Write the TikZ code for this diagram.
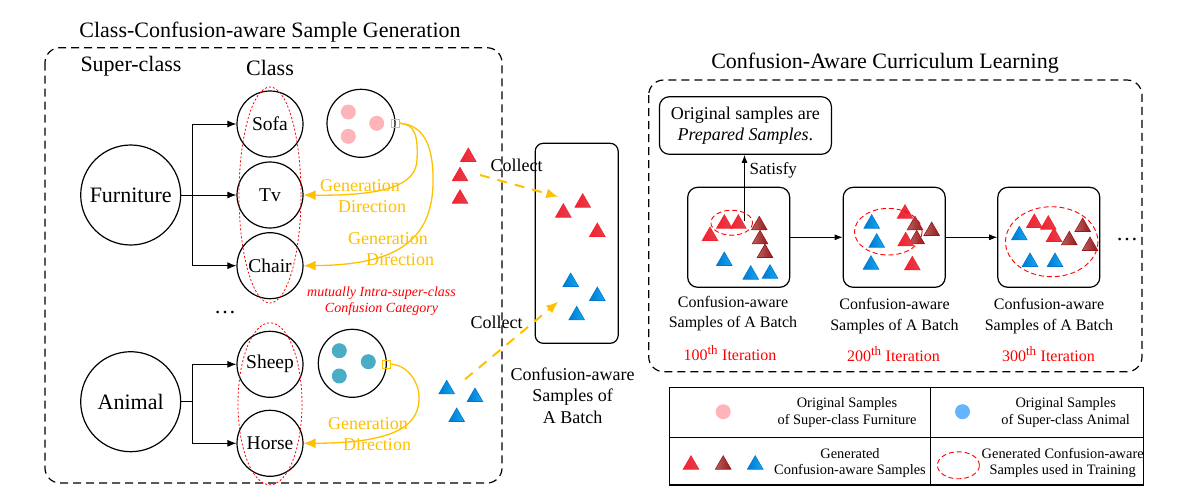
\documentclass[tikz,border=0pt]{standalone}
\usepackage{fontspec}
\setmainfont{Liberation Serif}
\usetikzlibrary{shapes.geometric,arrows.meta,positioning,calc}
\definecolor{genorange}{RGB}{255,192,0}
\definecolor{dotpink}{RGB}{255,180,185}
\definecolor{dotteal}{RGB}{75,172,198}
\definecolor{legblue}{RGB}{100,180,255}
\definecolor{trired}{RGB}{250,30,45}
\definecolor{triredm}{RGB}{232,145,150}
\definecolor{trireds}{RGB}{215,70,80}
\definecolor{tridark}{RGB}{150,25,25}
\definecolor{tridarkl}{RGB}{185,95,95}
\definecolor{tridarkm}{RGB}{190,125,125}
\definecolor{triblue}{RGB}{0,120,210}
\definecolor{triblues}{RGB}{20,170,240}

\begin{document}
\begin{tikzpicture}[x=1pt,y=-1pt,
  region/.style={draw,line width=1.2pt,dash pattern=on 8pt off 5pt,rounded corners=15pt},
  supcls/.style={draw,circle,line width=1.2pt,minimum size=100pt,inner sep=0pt,font=\fontsize{22}{26}\selectfont},
  cls/.style={draw,circle,line width=1.2pt,minimum size=66pt,inner sep=0pt,font=\fontsize{19.5}{23}\selectfont},
  pool/.style={draw,circle,line width=1.2pt,minimum size=68pt,inner sep=0pt},
  smp/.style={circle,inner sep=0pt,minimum size=15pt},
  hook/.style={draw=genorange,line width=1pt,minimum size=8pt,inner sep=0pt},
  confuse/.style={draw=red,line width=0.8pt,dash pattern=on 2pt off 2pt},
  tri/.style={regular polygon,regular polygon sides=3,minimum size=18pt,inner sep=0pt,line width=0.6pt,yshift=-2pt},
  redtri/.style={tri,draw=trired,left color=trired,middle color=triredm,right color=trireds},
  darktri/.style={tri,draw=tridark,left color=tridarkl,middle color=tridarkm,right color=tridark},
  bluetri/.style={tri,draw=triblue,left color=triblue,right color=triblues},
  batch/.style={draw,line width=1.2pt,rounded corners=10pt,minimum width=102pt,minimum height=100pt},
  used/.style={draw=red,line width=0.9pt,dash pattern=on 5pt off 3pt},
  arr/.style={-{Latex[length=9pt,width=7pt]},line width=1pt},
  thinarr/.style={-{Latex[length=8pt,width=6pt]},line width=0.8pt},
  genarr/.style={-{Latex[length=12pt,width=10pt]},draw=genorange,line width=1.3pt},
  colarr/.style={-{Latex[length=12pt,width=10pt]},draw=genorange,line width=2pt,dash pattern=on 10pt off 8pt},
  head/.style={font=\fontsize{22}{26}\selectfont},
  gen/.style={text=genorange,align=center,font=\fontsize{18}{21}\selectfont},
  txt/.style={align=center,font=\fontsize{18}{21.5}\selectfont},
  capt/.style={align=center,font=\fontsize{16}{20.7}\selectfont},
  iter/.style={text=red,font=\fontsize{16}{20}\selectfont},
  leg/.style={align=center,font=\fontsize{14.4}{16.7}\selectfont}
]
  \useasboundingbox (0,0) rectangle (1186,499);
  % Panels
  \node[head] (ttlgen) at (270,31.7) {Class-Confusion-aware Sample Generation};
  \node[head] (ttlcur) at (885,63.3) {Confusion-Aware Curriculum Learning};
  \draw[region] (45,47.7) rectangle (502,483);
  \draw[region] (648.7,80) rectangle (1142,371.7);
  \node[head] (hsup) at (131,66.7) {Super-class};
  \node[head] (hcls) at (270,68) {Class};

  % Super-classes and classes
  \node[supcls] (furn) at (130.7,195) {Furniture};
  \node[supcls] (anim) at (130.7,401.7) {Animal};
  \node[cls] (sofa) at (270,124) {Sofa};
  \node[cls] (tv) at (270,195) {Tv};
  \node[cls] (chair) at (270,265.7) {Chair};
  \node[cls] (sheep) at (270,364.3) {Sheep};
  \node[cls] (horse) at (270,443.3) {Horse};
  \node[head] (vdots) at (225,313) {\dots};
  \coordinate (fj) at (192.3,195);
  \coordinate (aj) at (192.3,401.7);
  \draw[line width=1pt] (furn) -- (fj);
  \draw[arr] (fj) |- (sofa);
  \draw[arr] (fj) -- (tv);
  \draw[arr] (fj) |- (chair);
  \draw[line width=1pt] (anim) -- (aj);
  \draw[arr] (aj) |- (sheep);
  \draw[arr] (aj) |- (horse);
  \draw[confuse] (tv) ellipse (31 and 108);
  \draw[confuse] ($(sheep)!0.5!(horse)$) ellipse (32 and 81);
  \node[text=red,align=center,font=\fontsize{14}{16}\selectfont\itshape] (conf) at (381.5,301) {mutually Intra-super-class\\Confusion Category};

  % Original samples
  \node[pool] (fpool) at (361,123.3) {};
  \node[pool] (apool) at (352.3,363.3) {};
  \foreach \x/\y [count=\i] in {348.3/112,376.7/123.3,348.3/136.3}
    \node[smp,fill=dotpink] (fd\i) at (\x,\y) {};
  \foreach \x/\y [count=\i] in {339.3/350.7,368.3/361.7,339.3/376}
    \node[smp,fill=dotteal] (ad\i) at (\x,\y) {};
  \node[hook] (fhook) at (395.3,123.3) {};
  \node[hook] (ahook) at (386.7,364) {};

  % Generation directions
  \draw[genarr] (fhook.east) .. controls (416,124) and (418,138) .. (417,160)
    .. controls (416,185) and (385,196) .. (tv.east);
  \draw[genarr] (fhook.east) .. controls (426,125) and (434,150) .. (433,185)
    .. controls (431,248) and (385,265) .. (chair.east);
  \draw[genarr] (ahook.east) .. controls (410,366) and (420,385) .. (419,400)
    .. controls (418,430) and (385,443) .. (horse.east);
  \node[gen] (gd1) at (360,196.5) {Generation\\\hspace*{24pt}Direction};
  \node[gen] (gd2) at (388,249) {Generation\\\hspace*{24pt}Direction};
  \node[gen] (gd3) at (368,434) {Generation\\\hspace*{18pt}Direction};

  % Generated samples collected into a batch
  \foreach \x/\y [count=\i] in {468.3/155,460/174.3,460/196.7}
    \node[redtri] (gr\i) at (\x,\y) {};
  \foreach \x/\y [count=\i] in {446.7/387.3,475/395,456.7/415}
    \node[bluetri] (gb\i) at (\x,\y) {};
  \node[draw,line width=1.2pt,rounded corners=8pt,minimum width=83pt,minimum height=200pt] (mbatch) at (576.7,243.3) {};
  \foreach \x/\y [count=\i] in {582.7/200.7,563.3/210.7,597.3/230}
    \node[redtri] (mr\i) at (\x,\y) {};
  \foreach \x/\y [count=\i] in {570.7/280,597.3/294,576.7/313.3}
    \node[bluetri] (mb\i) at (\x,\y) {};
  \coordinate (cola) at (480,175);
  \coordinate (colb) at (558.3,196.7);
  \coordinate (colc) at (465,379.3);
  \coordinate (cold) at (558.3,301.7);
  \draw[colarr] (cola) -- (colb);
  \draw[colarr] (colc) -- (cold);
  \node[txt] (col1) at (516.7,165.7) {Collect};
  \node[txt] (col2) at (496.7,322.3) {Collect};
  \node[txt] (mcap) at (572.7,395.5) {Confusion-aware\\Samples of\\A Batch};

  % Curriculum
  \node[draw,line width=1.2pt,rounded corners=10pt,minimum width=172pt,minimum height=57.6pt,txt] (prep) at (745.4,125.5) {Original samples are\\\textit{Prepared Samples}.};
  \node[batch] (bt1) at (738.7,237.3) {};
  \node[batch] (bt2) at (894.2,237.3) {};
  \node[batch] (bt3) at (1048.8,237.3) {};
  \draw[thinarr] (bt1) -- (bt2);
  \draw[thinarr] (bt2) -- (bt3);
  \node[head] (rdots) at (1127,240) {\dots};
  \coordinate (sat) at (744.5,221);
  \draw[thinarr] (sat) -- (sat |- prep.south);
  \node[txt,font=\fontsize{17}{20}\selectfont] (satl) at (773.3,170) {Satisfy};
  % batch 1
  \foreach \x/\y [count=\i] in {759.3/223.3,760/237.3,765/251}
    \node[darktri] (ka\i) at (\x,\y) {};
  \foreach \x/\y [count=\i] in {724.3/221.7,738.3/221.7,710/234}
    \node[redtri] (ra\i) at (\x,\y) {};
  \foreach \x/\y [count=\i] in {724.3/259,750.7/272.7,770/271.7}
    \node[bluetri] (ba\i) at (\x,\y) {};
  \draw[used] (731.7,222.7) ellipse (20.8 and 12.5);
  % batch 2
  \foreach \x/\y [count=\i] in {915/223.3,931.7/229,916.7/237.3}
    \node[darktri] (kb\i) at (\x,\y) {};
  \foreach \x/\y [count=\i] in {905/211.7,905.7/239.3,912.3/263.3}
    \node[redtri] (rb\i) at (\x,\y) {};
  \foreach \x/\y [count=\i] in {871.7/221.7,876.7/240.7,871/262.7}
    \node[bluetri] (bb\i) at (\x,\y) {};
  \draw[used] (888.3,231.7) ellipse (33.8 and 23.3);
  % batch 3
  \foreach \x/\y [count=\i] in {1082.7/225,1069.3/238.3,1090/244}
    \node[darktri] (kc\i) at (\x,\y) {};
  \foreach \x/\y [count=\i] in {1034.3/221,1048.3/222.7,1054/235}
    \node[redtri] (rc\i) at (\x,\y) {};
  \foreach \x/\y [count=\i] in {1019.3/233.3,1030/260,1055/260}
    \node[bluetri] (bc\i) at (\x,\y) {};
  \draw[used] (1051.7,241.7) ellipse (46.2 and 35);
  \node[capt] (cap1) at (733,313.7) {Confusion-aware\\Samples of A Batch};
  \node[capt] (cap2) at (894.5,316) {Confusion-aware\\Samples of A Batch};
  \node[capt] (cap3) at (1049,316) {Confusion-aware\\Samples of A Batch};
  \node[iter] (it1) at (730,352.7) {100\textsuperscript{\fontsize{13}{13}\selectfont th} Iteration};
  \node[iter] (it2) at (893.5,354) {200\textsuperscript{\fontsize{13}{13}\selectfont th} Iteration};
  \node[iter] (it3) at (1048.5,354) {300\textsuperscript{\fontsize{13}{13}\selectfont th} Iteration};

  % Legend
  \draw[line width=1.4pt] (669.2,387.3) rectangle (1143.5,485);
  \draw[line width=1.4pt] (669.2,437.3) -- (1143.5,437.3);
  \draw[line width=1.4pt] (930.5,387.3) -- (930.5,485);
  \node[smp,fill=dotpink] (lgp) at (723.2,411.7) {};
  \node[leg] (lgpt) at (847,412.3) {Original Samples\\of Super-class Furniture};
  \node[smp,fill=legblue] (lgb) at (962.5,411.7) {};
  \node[leg] (lgbt) at (1065.7,412.5) {Original Samples\\of Super-class Animal};
  \node[redtri] (lgr) at (691,462.7) {};
  \node[darktri] (lgk) at (723.2,462.7) {};
  \node[bluetri] (lgl) at (755.2,462.7) {};
  \node[leg] (lgtt) at (850,463) {Generated\\Confusion-aware Samples};
  \node[used,ellipse,minimum width=42pt,minimum height=27pt,inner sep=0pt] (lge) at (958.4,465.3) {};
  \node[leg] (lget) at (1062.7,463) {Generated Confusion-aware\\Samples used in Training};
\end{tikzpicture}
\end{document}
